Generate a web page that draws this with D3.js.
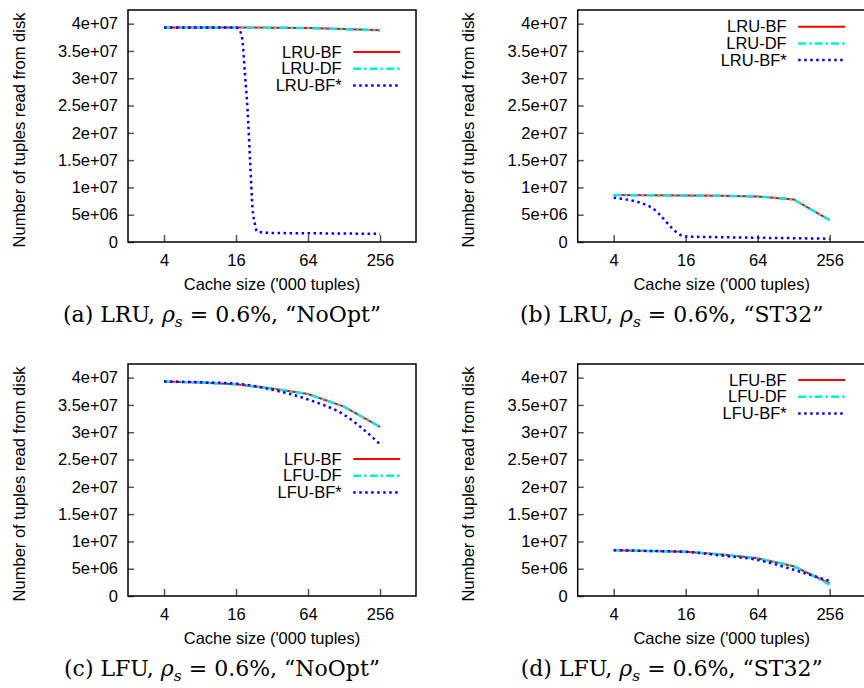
<!DOCTYPE html>
<html>
<head>
<meta charset="utf-8">
<script src="https://cdn.jsdelivr.net/npm/d3@7"></script>
<style>
  body { margin: 0; background: #fff; }
  svg { display: block; }
  text { font-family: 'Liberation Sans', Arial, sans-serif; fill: #000; }
  text.caption { font-family: 'DejaVu Serif', 'Liberation Serif', serif; }
</style>
</head>
<body>
<div id="root"></div>
<script>
const width = 864;
const height = 688;

// Data: cache size ('000 tuples) and number of tuples read from disk

const cacheSizes = [4, 8, 16, 32, 64, 128, 256];
const dropSizes = [4, 8, 16, 17, 18, 19, 20, 21, 22, 23, 24, 32, 64, 128, 256];

const xTicks = [4, 16, 64, 256];
const yTicks = [0, 5e6, 1e7, 1.5e7, 2e7, 2.5e7, 3e7, 3.5e7, 4e7];
const yTickLabels = ['0', '5e+06', '1e+07', '1.5e+07', '2e+07', '2.5e+07', '3e+07', '3.5e+07', '4e+07'];

// (a) LRU, NoOpt
const lruNoOptBF = [3.93e7, 3.93e7, 3.93e7, 3.925e7, 3.92e7, 3.9e7, 3.88e7];
const lruNoOptDF = [3.93e7, 3.93e7, 3.93e7, 3.925e7, 3.92e7, 3.9e7, 3.88e7];
const lruNoOptBFs = [3.93e7, 3.93e7, 3.93e7, 3.89e7, 3.74e7, 3.09e7, 2.41e7, 1.48e7, 6.2e6, 3.4e6, 1.9e6, 1.65e6, 1.6e6, 1.55e6, 1.5e6];

// (b) LRU, ST32
const lruST32BF = [8.6e6, 8.55e6, 8.5e6, 8.45e6, 8.35e6, 7.8e6, 4.0e6];
const lruST32DF = [8.6e6, 8.55e6, 8.5e6, 8.45e6, 8.35e6, 7.8e6, 4.0e6];
const lruST32BFs = [8.1e6, 6.5e6, 1.0e6, 0.88e6, 0.78e6, 0.7e6, 0.6e6];

// (c) LFU, NoOpt
const lfuNoOptBF = [3.93e7, 3.91e7, 3.88e7, 3.8e7, 3.7e7, 3.47e7, 3.1e7];
const lfuNoOptDF = [3.93e7, 3.91e7, 3.88e7, 3.8e7, 3.7e7, 3.47e7, 3.1e7];
const lfuNoOptBFs = [3.93e7, 3.915e7, 3.89e7, 3.78e7, 3.6e7, 3.32e7, 2.78e7];

// (d) LFU, ST32
const lfuST32BF = [8.4e6, 8.25e6, 8.1e6, 7.6e6, 6.9e6, 5.45e6, 2.3e6];
const lfuST32DF = [8.4e6, 8.25e6, 8.1e6, 7.6e6, 6.9e6, 5.5e6, 2.1e6];
const lfuST32BFs = [8.4e6, 8.25e6, 8.1e6, 7.4e6, 6.6e6, 4.8e6, 2.75e6];

const panels = [
  { id: 'a', policy: 'LRU', opt: 'NoOpt', series: [[cacheSizes, lruNoOptBF], [cacheSizes, lruNoOptDF], [dropSizes, lruNoOptBFs]] },
  { id: 'b', policy: 'LRU', opt: 'ST32', series: [[cacheSizes, lruST32BF], [cacheSizes, lruST32DF], [cacheSizes, lruST32BFs]] },
  { id: 'c', policy: 'LFU', opt: 'NoOpt', series: [[cacheSizes, lfuNoOptBF], [cacheSizes, lfuNoOptDF], [cacheSizes, lfuNoOptBFs]] },
  { id: 'd', policy: 'LFU', opt: 'ST32', series: [[cacheSizes, lfuST32BF], [cacheSizes, lfuST32DF], [cacheSizes, lfuST32BFs]] },
];

// Layout

const boxW = 288;
const boxH = 232;
const layout = [
  { left: 128, top: 10, legendTop: 42, legendX: 213.7 },
  { left: 577.7, top: 10, legendTop: 16.7, legendX: 209 },
  { left: 128, top: 364, legendTop: 95, legendX: 213.7 },
  { left: 577.7, top: 364, legendTop: 16, legendX: 209 },
];

const styles = [
  { suffix: 'BF', color: '#ff0000', dash: null, widthPx: 2, curve: d3.curveLinear },
  { suffix: 'DF', color: '#00e8e8', dash: '8,3,2.5,3', widthPx: 2.5, curve: d3.curveLinear },
  { suffix: 'BF*', color: '#0000ff', dash: '2.5,3.5', widthPx: 2.5, curve: d3.curveMonotoneX },
];

// Main canvas

const svg = d3
  .select('#root')
  .append('svg')
  .attr('width', width)
  .attr('height', height);

// Scales (shared by every panel)

const xScale = d3.scaleLog().base(4).domain([2, 512]).range([0, boxW]);
const yScale = d3.scaleLinear().domain([0, 4.25e7]).range([boxH, 0]);

panels.forEach((p, i) => {
  const L = layout[i];
  const g = svg.append('g').attr('transform', `translate(${L.left}, ${L.top})`);

  // Axes

  const xAxis = d3
    .axisBottom(xScale)
    .tickValues(xTicks)
    .tickFormat(d3.format('d'))
    .tickSizeInner(-7)
    .tickSizeOuter(0)
    .tickPadding(12);

  const xg = g.append('g').attr('transform', `translate(0, ${boxH})`).call(xAxis);

  const yAxis = d3
    .axisLeft(yScale)
    .tickValues(yTicks)
    .tickFormat((d, j) => yTickLabels[j])
    .tickSizeInner(-6)
    .tickSizeOuter(0)
    .tickPadding(10);

  const yg = g.append('g').call(yAxis);

  [xg, yg].forEach((ax) => {
    ax.select('.domain').remove();
    ax.selectAll('.tick line').attr('stroke', '#555').attr('stroke-width', 1.5);
    ax.selectAll('.tick text').style('font-size', '16.5px').attr('fill', '#000');
  });

  // Lines

  p.series.forEach(([xs, ys], k) => {
    const s = styles[k];
    const line = d3
      .line()
      .x((d, j) => xScale(xs[j]))
      .y((d) => yScale(d))
      .curve(s.curve);
    g.append('path')
      .datum(ys)
      .attr('d', line)
      .attr('fill', 'none')
      .attr('stroke', s.color)
      .attr('stroke-width', s.widthPx)
      .attr('stroke-dasharray', s.dash);
  });

  // Border

  g.append('rect')
    .attr('width', boxW)
    .attr('height', boxH)
    .attr('fill', 'none')
    .attr('stroke', '#000')
    .attr('stroke-width', 1.5);

  // Legend

  styles.forEach((s, k) => {
    const y = L.legendTop + k * 16.7;
    g.append('text')
      .attr('x', L.legendX)
      .attr('y', y)
      .attr('dy', '0.35em')
      .attr('text-anchor', 'end')
      .style('font-size', '16.5px')
      .text(`${p.policy}-${s.suffix}`);
    g.append('line')
      .attr('x1', L.legendX + 11.5)
      .attr('x2', L.legendX + 58.5)
      .attr('y1', y)
      .attr('y2', y)
      .attr('stroke', s.color)
      .attr('stroke-width', s.widthPx)
      .attr('stroke-dasharray', s.dash);
  });

  // Axis titles

  g.append('text')
    .attr('transform', `translate(-103.5, ${boxH / 2 + 4}) rotate(-90)`)
    .attr('text-anchor', 'middle')
    .style('font-size', '16.5px')
    .text('Number of tuples read from disk');

  g.append('text')
    .attr('x', boxW / 2)
    .attr('y', boxH + 48)
    .attr('text-anchor', 'middle')
    .style('font-size', '16.5px')
    .text("Cache size ('000 tuples)");

  // Caption

  const cap = g
    .append('text')
    .attr('class', 'caption')
    .attr('x', boxW / 2 - 50)
    .attr('y', boxH + 80)
    .attr('text-anchor', 'middle')
    .style('font-size', '22px');
  cap.append('tspan').text(`(${p.id}) ${p.policy}, `);
  cap.append('tspan').style('font-style', 'italic').text('ρ');
  cap.append('tspan').attr('dy', 4.5).style('font-size', '15.5px').style('font-style', 'italic').text('s');
  cap.append('tspan').attr('dy', -4.5).text(` = 0.6%, “${p.opt}”`);
});
</script>
</body>
</html>
